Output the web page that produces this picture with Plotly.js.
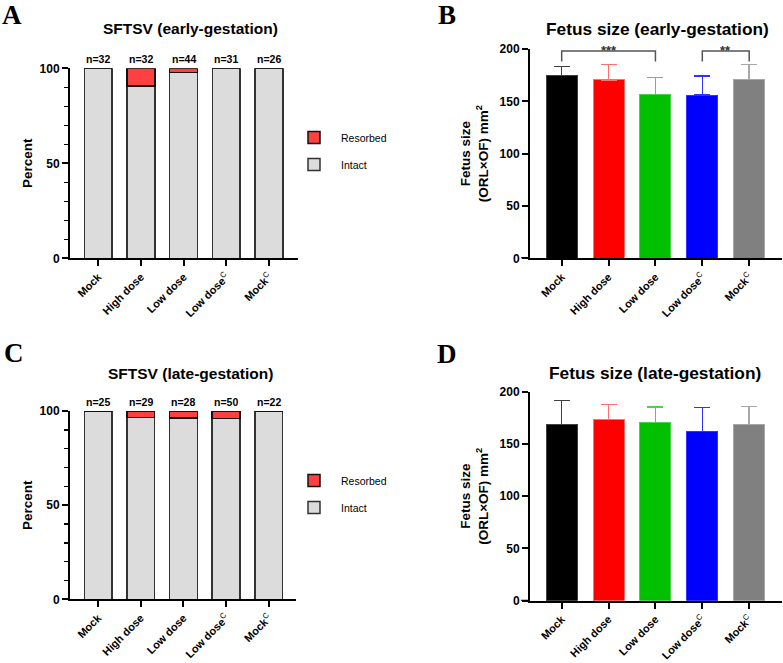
<!DOCTYPE html>
<html>
<head>
<meta charset="utf-8">
<script src="https://cdn.plot.ly/plotly-3.0.1.min.js"></script>
<style>html,body{margin:0;padding:0;background:#fff;}#chart{width:783px;height:663px;}</style>
</head>
<body>
<div id="chart"></div>
<script>
// ---------- data ----------
const categories = ['Mock', 'High dose', 'Low dose', 'Low dose<sup><span style="font-weight:normal">C</span></sup>', 'Mock<sup><span style="font-weight:normal">C</span></sup>'];
const earlyIntact = [100, 90.6, 97.7, 100, 100];
const earlyResorbed = [0, 9.4, 2.3, 0, 0];
const earlyN = [32, 32, 44, 31, 26];
const lateIntact = [100, 96.6, 96.4, 96, 100];
const lateResorbed = [0, 3.4, 3.6, 4, 0];
const lateN = [25, 29, 28, 50, 22];
const earlySizeMean = [174.5, 170.5, 156.7, 156, 171];
const earlySizeSD = [8.6, 14.6, 16.3, 18.2, 14.4];
const lateSizeMean = [168.8, 173.2, 170.7, 162.1, 168.8];
const lateSizeSD = [22.6, 14.7, 14.7, 22.6, 17.2];
const earlyComparisons = [{from: 0, to: 2, label: '***'}, {from: 3, to: 4, label: '**'}];

// ---------- styles ----------
const groupColors = ['#000000', '#ff0000', '#00c000', '#0000ff', '#808080'];
const errColors = ['#404040', '#ff7070', '#50d050', '#3030ff', '#a8a8a8'];
const W = 783, H = 663;
const px = v => v / W;
const py = v => 1 - v / H;
const FONT = 'Liberation Sans, Arial, Helvetica, sans-serif';

const traces = [];
function stackTraces(intact, resorbed, xa, ya, legend) {
  traces.push({
    type: 'bar', x: categories, y: intact, name: 'Intact', xaxis: xa, yaxis: ya,
    marker: {color: '#dcdcdc', line: {color: '#333333', width: 1.5}},
    width: 0.65, legend: legend, legendgroup: legend + 'i', legendrank: 2, showlegend: true, hoverinfo: 'skip'
  });
  traces.push({
    type: 'bar', x: categories, y: resorbed, name: 'Resorbed', xaxis: xa, yaxis: ya,
    marker: {color: '#ff4040', line: {color: '#111111', width: 1.5}},
    width: 0.65, legend: legend, legendgroup: legend + 'r', legendrank: 1, showlegend: true, hoverinfo: 'skip'
  });
}
stackTraces(earlyIntact, earlyResorbed, 'x', 'y', 'legend');
stackTraces(lateIntact, lateResorbed, 'x3', 'y3', 'legend2');

function sizeTraces(mean, sd, xa, ya) {
  categories.forEach((c, i) => {
    traces.push({
      type: 'bar', x: [c], y: [mean[i]], xaxis: xa, yaxis: ya, showlegend: false,
      marker: {color: groupColors[i], line: {color: errColors[i], width: 1}},
      width: 0.66, hoverinfo: 'skip',
      error_y: {type: 'data', symmetric: false, array: [sd[i]], arrayminus: [0], color: errColors[i], thickness: 1.5, width: 8}
    });
  });
}
sizeTraces(earlySizeMean, earlySizeSD, 'x2', 'y2');
sizeTraces(lateSizeMean, lateSizeSD, 'x4', 'y4');

// ---------- axes ----------
const xTickFont = {family: FONT, size: 11, color: '#000', weight: 'bold'};
const yTickFont = {family: FONT, size: 12, color: '#000', weight: 'bold'};
function xAxis(domain, range, anchor) {
  return {domain: domain, range: range, anchor: anchor, type: 'category', tickangle: -45,
    ticks: 'outside', ticklen: 6, tickwidth: 2, tickcolor: '#000', showline: true, linewidth: 2, linecolor: '#000',
    showgrid: false, zeroline: false, tickfont: xTickFont, fixedrange: true};
}
function yAxis(domain, range, anchor, tickvals, title, minor, standoff) {
  const a = {domain: domain, range: range, anchor: anchor, tickvals: tickvals,
    ticks: 'outside', ticklen: 6, tickwidth: 2, tickcolor: '#000', showline: true, linewidth: 2, linecolor: '#000',
    showgrid: false, zeroline: false, tickfont: yTickFont, fixedrange: true,
    title: {text: title, font: {family: FONT, size: 13.5, color: '#000', weight: 'bold'}, standoff: standoff}};
  if (minor) a.minor = {dtick: 10, ticks: 'outside', ticklen: 4, tickwidth: 1.5, tickcolor: '#000', showgrid: false};
  return a;
}
const sizeTitle = 'Fetus size<br>(ORL×OF) mm<sup>2</sup>';

const annotations = [];
function addN(nArr, xa, ya) {
  nArr.forEach((n, i) => annotations.push({
    xref: xa, yref: ya, x: categories[i], y: 100, yanchor: 'bottom', yshift: 1, showarrow: false,
    text: 'n=' + n, font: {family: FONT, size: 10.5, color: '#000', weight: 'bold'}
  }));
}
addN(earlyN, 'x', 'y');
addN(lateN, 'x3', 'y3');

function addTitle(text, x, y, size) {
  annotations.push({xref: 'paper', yref: 'paper', x: px(x), y: py(y), xanchor: 'center', yanchor: 'middle',
    showarrow: false, text: text, font: {family: FONT, size: size, color: '#000', weight: 'bold'}});
}
addTitle('SFTSV (early-gestation)', 190, 29, 15.5);
addTitle('Fetus size (early-gestation)', 657, 29, 17.3);
addTitle('SFTSV (late-gestation)', 190, 373, 15.5);
addTitle('Fetus size (late-gestation)', 655, 373, 17.3);

function addPanel(letter, x, y) {
  annotations.push({xref: 'paper', yref: 'paper', x: px(x), y: py(y), xanchor: 'center', yanchor: 'middle',
    showarrow: false, text: letter, font: {family: 'Liberation Serif, Times New Roman, serif', size: 27, color: '#000', weight: 'bold'}});
}
addPanel('A', 12, 15);
addPanel('B', 447, 15);
addPanel('C', 14, 353);
addPanel('D', 447, 354);

const shapes = [];
earlyComparisons.forEach(c => {
  const yTop = 198, yEnd = 188;
  shapes.push({type: 'path', xref: 'x2', yref: 'y2',
    path: 'M' + c.from + ',' + yEnd + ' L' + c.from + ',' + yTop + ' L' + c.to + ',' + yTop + ' L' + c.to + ',' + yEnd,
    line: {color: '#555555', width: 1.5}});
  annotations.push({xref: 'x2', yref: 'y2', x: (c.from + c.to) / 2, y: yTop, yanchor: 'bottom', yshift: -9,
    showarrow: false, text: c.label, font: {family: FONT, size: 13, color: '#333', weight: 'bold'}});
});
// GraphPad-style x-axis stub extending left of the y axis
[['y2'], ['y4']].forEach(([ya]) => shapes.push({type: 'line', xref: 'paper', yref: ya, x0: px(521), x1: px(530), y0: 0, y1: 0,
  line: {color: '#000', width: 2}}));

const legendStyle = (y) => ({x: px(287), y: py(y), xanchor: 'left', yanchor: 'top', bgcolor: 'rgba(0,0,0,0)',
  font: {family: FONT, size: 10.5, color: '#000'}, traceorder: 'grouped', tracegroupgap: 8, itemwidth: 44});

const layout = {
  width: W, height: H, margin: {l: 0, r: 0, t: 0, b: 0}, paper_bgcolor: '#fff', plot_bgcolor: '#fff',
  barmode: 'stack', showlegend: true,
  font: {family: FONT, color: '#000'},
  legend: legendStyle(123),
  legend2: legendStyle(466),
  xaxis: xAxis([px(70), px(298)], [-0.66, 4.68], 'y'),
  yaxis: yAxis([py(258.3), py(68.3)], [0, 100], 'x', [0, 50, 100], 'Percent', true, 4),
  xaxis2: xAxis([px(530), px(782)], [-0.676, 4.70], 'y2'),
  yaxis2: yAxis([py(258.3), py(49)], [0, 200], 'x2', [0, 50, 100, 150, 200], sizeTitle, false, 8),
  xaxis3: xAxis([px(70), px(296)], [-0.66, 4.64], 'y3'),
  yaxis3: yAxis([py(599.3), py(411)], [0, 100], 'x3', [0, 50, 100], 'Percent', true, 4),
  xaxis4: xAxis([px(530), px(782)], [-0.676, 4.70], 'y4'),
  yaxis4: yAxis([py(600.7), py(391.7)], [0, 200], 'x4', [0, 50, 100, 150, 200], sizeTitle, false, 8),
  annotations: annotations, shapes: shapes
};

Plotly.newPlot('chart', traces, layout, {displayModeBar: false, staticPlot: true});
</script>
</body>
</html>
